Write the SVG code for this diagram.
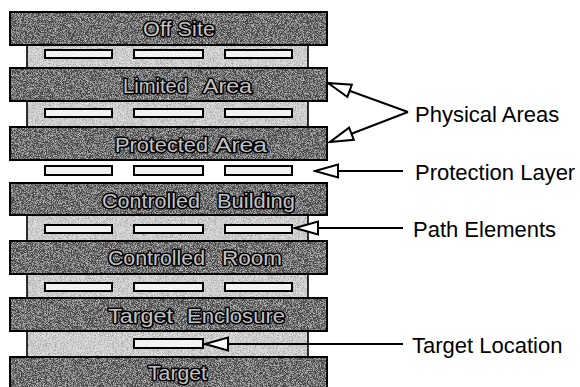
<svg xmlns="http://www.w3.org/2000/svg" width="580" height="387" viewBox="0 0 580 387">
  <style>
    .bar { fill: #5e5e5e; }
    .edge { fill: none; stroke: #000; stroke-width: 2; }
    .layer { fill: #c8c8c8; }
    .side { stroke: #000; stroke-width: 1.6; }
    .elem { fill: #f2f2f2; stroke: #000; stroke-width: 2; }
    .zone { font-family: "Liberation Sans", Arial, sans-serif; font-size: 21px; fill: #c2c2c2; stroke: #000; stroke-width: 3; stroke-linejoin: round; paint-order: stroke; }
    .label { font-family: "Liberation Sans", Arial, sans-serif; font-size: 22px; fill: #000; }
    .conn { stroke: #000; stroke-width: 2; fill: none; marker-end: url(#openHead); }
  </style>
  <defs>
    <marker id="openHead" markerUnits="userSpaceOnUse" viewBox="-26 -10 28 20" refX="0" refY="0" markerWidth="28" markerHeight="20" orient="auto">
      <path d="M0,0 L-23,-6.5 L-23,6.5 Z" fill="#fff" stroke="#000" stroke-width="2" stroke-linejoin="miter"/>
    </marker>
    <!-- halftone-like speckle over the dark area bars -->
    <filter id="grain" x="0" y="0" width="100%" height="100%">
      <feTurbulence type="fractalNoise" baseFrequency="1.4" numOctaves="1" seed="5" result="noise"/>
      <feColorMatrix in="noise" type="matrix" values="1 0 0 0 0  1 0 0 0 0  1 0 0 0 0  0 0 0 0 0.45" result="gray"/>
      <feComponentTransfer in="gray" result="contrast">
        <feFuncR type="linear" slope="3.2" intercept="-1.35"/>
        <feFuncG type="linear" slope="3.2" intercept="-1.35"/>
        <feFuncB type="linear" slope="3.2" intercept="-1.35"/>
      </feComponentTransfer>
      <feComposite in="contrast" in2="SourceGraphic" operator="in" result="speckle"/>
      <feMerge><feMergeNode in="SourceGraphic"/><feMergeNode in="speckle"/></feMerge>
    </filter>
    <!-- lighter speckle for the layers -->
    <filter id="grainLight" x="0" y="0" width="100%" height="100%">
      <feTurbulence type="fractalNoise" baseFrequency="1.4" numOctaves="1" seed="11" result="noise"/>
      <feColorMatrix in="noise" type="matrix" values="1 0 0 0 0  1 0 0 0 0  1 0 0 0 0  0 0 0 0 0.35" result="gray"/>
      <feComponentTransfer in="gray" result="contrast">
        <feFuncR type="linear" slope="3" intercept="-0.8"/>
        <feFuncG type="linear" slope="3" intercept="-0.8"/>
        <feFuncB type="linear" slope="3" intercept="-0.8"/>
      </feComponentTransfer>
      <feComposite in="contrast" in2="SourceGraphic" operator="in" result="speckle"/>
      <feMerge><feMergeNode in="SourceGraphic"/><feMergeNode in="speckle"/></feMerge>
    </filter>
  </defs>

  <!-- light layers between the area bars, holding the path elements -->
  <g id="layers">
    <g filter="url(#grainLight)">
      <rect class="layer" x="27" y="45" width="281" height="23"/>
      <rect class="layer" x="27" y="101" width="281" height="26"/>
      <rect class="layer" x="27" y="215" width="281" height="26"/>
      <rect class="layer" x="27" y="274" width="281" height="24"/>
      <rect class="layer" x="27" y="331" width="281" height="26"/>
    </g>
    <path class="side" d="M27,45V68M308,45V68M27,101V127M308,101V127M27,215V241M308,215V241M27,274V298M308,274V298M27,331V357M308,331V357"/>
  </g>

  <!-- physical area bars -->
  <g id="off-site">
    <rect class="bar" x="10" y="12" width="317" height="33" filter="url(#grain)"/>
    <rect class="edge" x="10" y="12" width="317" height="33"/>
    <text class="zone" x="143" y="36" textLength="72" lengthAdjust="spacingAndGlyphs">Off Site</text>
  </g>
  <g id="limited-area">
    <rect class="bar" x="10" y="68" width="317" height="33" filter="url(#grain)"/>
    <rect class="edge" x="10" y="68" width="317" height="33"/>
    <text class="zone" y="93"><tspan x="123" textLength="65" lengthAdjust="spacingAndGlyphs">Limited</tspan><tspan x="203" textLength="49" lengthAdjust="spacingAndGlyphs">Area</tspan></text>
  </g>
  <g id="protected-area">
    <rect class="bar" x="10" y="127" width="317" height="33" filter="url(#grain)"/>
    <rect class="edge" x="10" y="127" width="317" height="33"/>
    <text class="zone" y="152"><tspan x="115" textLength="93" lengthAdjust="spacingAndGlyphs">Protected</tspan><tspan x="215" textLength="52" lengthAdjust="spacingAndGlyphs">Area</tspan></text>
  </g>
  <g id="controlled-building">
    <rect class="bar" x="10" y="183" width="317" height="32" filter="url(#grain)"/>
    <rect class="edge" x="10" y="183" width="317" height="32"/>
    <text class="zone" y="208"><tspan x="102" textLength="98" lengthAdjust="spacingAndGlyphs">Controlled</tspan><tspan x="217" textLength="78" lengthAdjust="spacingAndGlyphs">Building</tspan></text>
  </g>
  <g id="controlled-room">
    <rect class="bar" x="10" y="241" width="317" height="33" filter="url(#grain)"/>
    <rect class="edge" x="10" y="241" width="317" height="33"/>
    <text class="zone" y="265"><tspan x="108" textLength="97" lengthAdjust="spacingAndGlyphs">Controlled</tspan><tspan x="222" textLength="60" lengthAdjust="spacingAndGlyphs">Room</tspan></text>
  </g>
  <g id="target-enclosure">
    <rect class="bar" x="10" y="298" width="317" height="33" filter="url(#grain)"/>
    <rect class="edge" x="10" y="298" width="317" height="33"/>
    <text class="zone" y="323"><tspan x="108" textLength="65" lengthAdjust="spacingAndGlyphs">Target</tspan><tspan x="187" textLength="98" lengthAdjust="spacingAndGlyphs">Enclosure</tspan></text>
  </g>
  <g id="target">
    <rect class="bar" x="10" y="357" width="317" height="34" filter="url(#grain)"/>
    <rect class="edge" x="10" y="357" width="317" height="34"/>
    <text class="zone" x="148" y="380" textLength="59" lengthAdjust="spacingAndGlyphs">Target</text>
  </g>

  <!-- path elements (barriers) in each layer -->
  <g id="path-elements">
    <rect class="elem" x="45" y="50" width="67" height="8"/>
    <rect class="elem" x="134" y="50" width="69" height="8"/>
    <rect class="elem" x="225" y="50" width="67" height="8"/>
    <rect class="elem" x="45" y="109" width="67" height="8"/>
    <rect class="elem" x="134" y="109" width="69" height="8"/>
    <rect class="elem" x="225" y="109" width="67" height="8"/>
    <rect class="elem" x="45" y="166" width="67" height="9"/>
    <rect class="elem" x="134" y="166" width="69" height="9"/>
    <rect class="elem" x="225" y="166" width="67" height="9"/>
    <rect class="elem" x="45" y="225" width="67" height="8"/>
    <rect class="elem" x="134" y="225" width="69" height="8"/>
    <rect class="elem" x="225" y="225" width="67" height="8"/>
    <rect class="elem" x="45" y="283" width="67" height="8"/>
    <rect class="elem" x="134" y="283" width="69" height="8"/>
    <rect class="elem" x="225" y="283" width="67" height="8"/>
    <rect class="elem" x="134" y="339" width="69" height="9"/>
  </g>

  <!-- callout labels -->
  <g id="label-physical-areas"><text class="label" x="415" y="122">Physical Areas</text></g>
  <g id="label-protection-layer"><text class="label" x="415" y="180">Protection Layer</text></g>
  <g id="label-path-elements"><text class="label" x="413" y="237">Path Elements</text></g>
  <g id="label-target-location"><text class="label" x="412" y="353">Target Location</text></g>

  <!-- connectors -->
  <g id="connectors">
    <line class="conn" x1="408" y1="112" x2="328" y2="83"/>
    <line class="conn" x1="408" y1="112" x2="330" y2="142"/>
    <line class="conn" x1="403" y1="171" x2="315" y2="171"/>
    <line class="conn" x1="403" y1="228" x2="295" y2="228"/>
    <line class="conn" x1="403" y1="344" x2="205" y2="344"/>
  </g>
</svg>
